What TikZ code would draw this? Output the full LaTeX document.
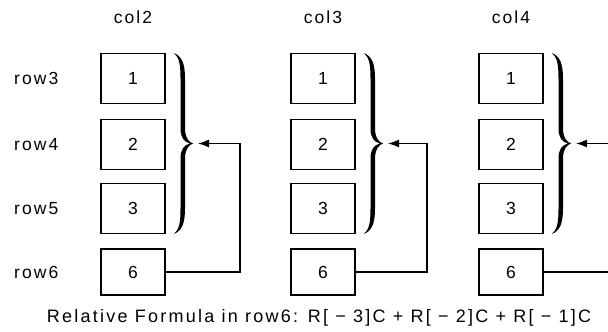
\documentclass[tikz,border=0pt]{standalone}
\usepackage{fontspec}
\setmainfont{Liberation Sans}
\newfontfamily\lblfont[LetterSpace=12]{Liberation Sans}
\newfontfamily\frmfont[LetterSpace=12.5]{Liberation Sans}
\usetikzlibrary{arrows.meta}

\tikzset{
  cell/.style={draw, line width=1.1pt, minimum width=64pt, minimum height=50pt, inner sep=0pt, font=\fontsize{17.5}{20}\selectfont},
  lbl/.style={font=\lblfont\fontsize{17.5}{20}\selectfont, inner sep=0pt},
  feed/.style={line width=1.2pt, -{Latex[length=11pt,width=8pt]}}
}

\begin{document}
\begin{tikzpicture}[x=1pt,y=1pt]
	\useasboundingbox (0,0) rectangle (608,332);
	\clip (0,0) rectangle (608,332);
	% row names on the left
	\foreach \r/\y in {3/253.5,4/187.5,5/123.5,6/60}
	{
		\node[lbl, anchor=west] (row\r) at (14,\y) {row\r};
	}
	% one column of cells, its brace and its feedback line
	\foreach \c/\x/\d in {2/133/47,3/323/44,4/511/47}
	{
		\node[lbl] (col\c) at (\x,315) {col\c};
		\node[cell] (c\c r3) at (\x,253.5) {1};
		\node[cell] (c\c r4) at (\x,187.5) {2};
		\node[cell] (c\c r5) at (\x,123.5) {3};
		\node[cell, minimum height=46pt] (c\c r6) at (\x,60) {6};
		\coordinate (tip\c) at (\x+60,188.5);
		\fill[shift={(tip\c)}] (-19,90.5) .. controls (-11,87) and (-8,80) .. (-8,65) -- (-8,15)
			.. controls (-8,6) and (-4,1) .. (0,0)
			.. controls (-4,-1) and (-8,-6) .. (-8,-15) -- (-8,-65)
			.. controls (-8,-80) and (-11,-87) .. (-19,-90.5)
			.. controls (-14,-86) and (-12.5,-80) .. (-12.5,-65) -- (-12.5,-15)
			.. controls (-12.5,-6) and (-9,-1.5) .. (-3,0)
			.. controls (-9,1.5) and (-12.5,6) .. (-12.5,15) -- (-12.5,65)
			.. controls (-12.5,80) and (-14,86) .. (-19,90.5) -- cycle;
		\coordinate (turn\c) at (\x+60+\d,60);
		\draw[feed] (c\c r6.east) -- (turn\c) |- ([xshift=5pt]tip\c);
	}
	\node[inner sep=0pt, anchor=base, font=\frmfont\fontsize{18}{21}\selectfont] (formula) at (319,9) {Relative Formula in row6: R[ − 3]C + R[ − 2]C + R[ − 1]C};
\end{tikzpicture}
\end{document}
